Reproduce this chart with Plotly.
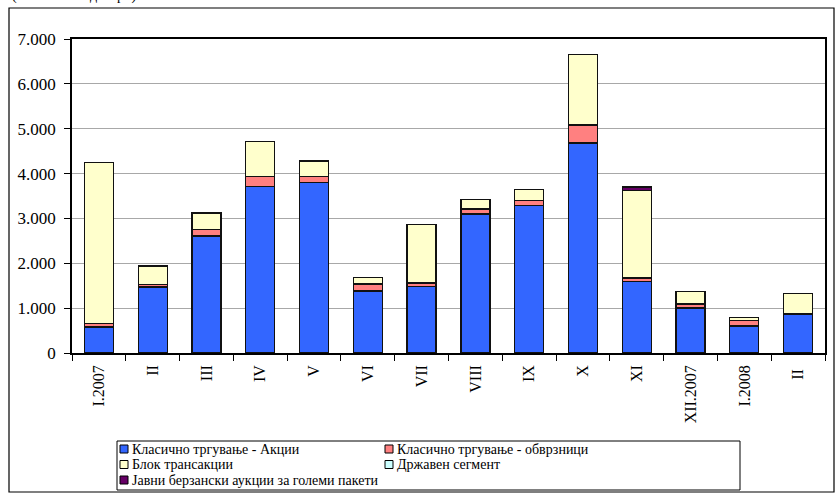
import plotly.graph_objects as go

categories = ["I.2007", "II", "III", "IV", "V", "VI", "VII", "VIII", "IX", "X", "XI", "XII.2007", "I.2008", "II "]
akcii = [580, 1470, 2610, 3710, 3800, 1380, 1480, 3100, 3290, 4680, 1590, 1000, 600, 855]
obvrznici = [80, 50, 150, 220, 130, 160, 80, 110, 110, 400, 80, 90, 120, 20]
blok = [3580, 420, 360, 790, 350, 140, 1300, 215, 240, 1580, 1960, 280, 75, 445]
drzaven = [0, 0, 0, 0, 0, 0, 0, 0, 0, 0, 0, 0, 0, 0]
aukcii = [0, 0, 0, 0, 0, 0, 0, 0, 0, 0, 70, 0, 0, 0]

series_names = ["Класично тргување - Акции", "Класично тргување - обврзници",
                "Блок трансакции", "Државен сегмент",
                "Јавни берзански аукции за големи пакети"]
series_values = [akcii, obvrznici, blok, drzaven, aukcii]
colors = ["#3366FF", "#FF8080", "#FFFFCC", "#CCFFFF", "#660066"]
y_ticks = [0, 1000, 2000, 3000, 4000, 5000, 6000, 7000]
y_tick_labels = ["0", "1.000", "2.000", "3.000", "4.000", "5.000", "6.000", "7.000"]

W, H = 840, 495
L, R, T, B = 72, 825, 39, 353
FONT = "Liberation Serif"

def px(x):
    return (x - L) / (R - L)

def py(y):
    return (B - y) / (B - T)

fig = go.Figure()
for name, vals, col in zip(series_names, series_values, colors):
    fig.add_trace(go.Bar(x=categories, y=vals, name=name, marker_color=col,
                         marker_line_color="#111111", marker_line_width=1.3,
                         showlegend=False))

shapes = []
annotations = []
# outer chart border
shapes.append(dict(type="rect", xref="paper", yref="paper",
                   x0=px(9), x1=px(834), y0=py(492), y1=py(8),
                   line=dict(color="black", width=1.2)))
# legend box
shapes.append(dict(type="rect", xref="paper", yref="paper",
                   x0=px(117), x1=px(740), y0=py(490), y1=py(441),
                   line=dict(color="black", width=1)))
leg_pos = [(120, 449), (385, 449), (120, 464.5), (385, 464.5), (120, 480)]
for (lx, ly), name, col in zip(leg_pos, series_names, colors):
    shapes.append(dict(type="rect", xref="paper", yref="paper",
                       x0=px(lx), x1=px(lx + 8), y0=py(ly + 4), y1=py(ly - 4),
                       fillcolor=col, line=dict(color="black", width=1)))
    annotations.append(dict(text=name, xref="paper", yref="paper",
                            x=px(lx + 10), y=py(ly), xanchor="left", yanchor="middle",
                            showarrow=False, font=dict(family=FONT, size=14, color="black")))
# unit text at very top (clipped by the page edge as in the reference)
annotations.append(dict(text="(во милиони денари)", xref="paper", yref="paper",
                        x=px(10), y=py(6), xanchor="left", yanchor="bottom",
                        showarrow=False, font=dict(family=FONT, size=14, color="black")))

fig.update_layout(
    barmode="stack",
    bargap=0.46,
    width=W, height=H,
    margin=dict(l=L, r=W - R, t=T, b=H - B, pad=0),
    paper_bgcolor="white", plot_bgcolor="white",
    font=dict(family=FONT, size=14, color="black"),
    shapes=shapes, annotations=annotations,
    showlegend=False,
)
fig.update_xaxes(type="category", tickson="boundaries", ticks="outside", ticklen=6,
                 tickcolor="black", tickwidth=1.3, showline=True, linecolor="black",
                 linewidth=1.5, mirror=True, tickangle=-90, showgrid=False,
                 ticklabelstandoff=4,
                 tickfont=dict(family=FONT, size=16, color="black"))
fig.update_yaxes(range=[0, 7000], tickvals=y_ticks, ticktext=y_tick_labels,
                 ticks="outside", ticklen=6, tickcolor="black", tickwidth=1.3,
                 showline=True, ticklabelstandoff=5,
                 linecolor="black", linewidth=1.5, mirror=True, showgrid=True,
                 gridcolor="#a8a8a8", gridwidth=1, zeroline=False,
                 tickfont=dict(family=FONT, size=17, color="black"))

fig.write_html("out.html", config={"displayModeBar": False},
               post_script="document.body.style.margin='0';document.body.style.overflow='hidden';")
